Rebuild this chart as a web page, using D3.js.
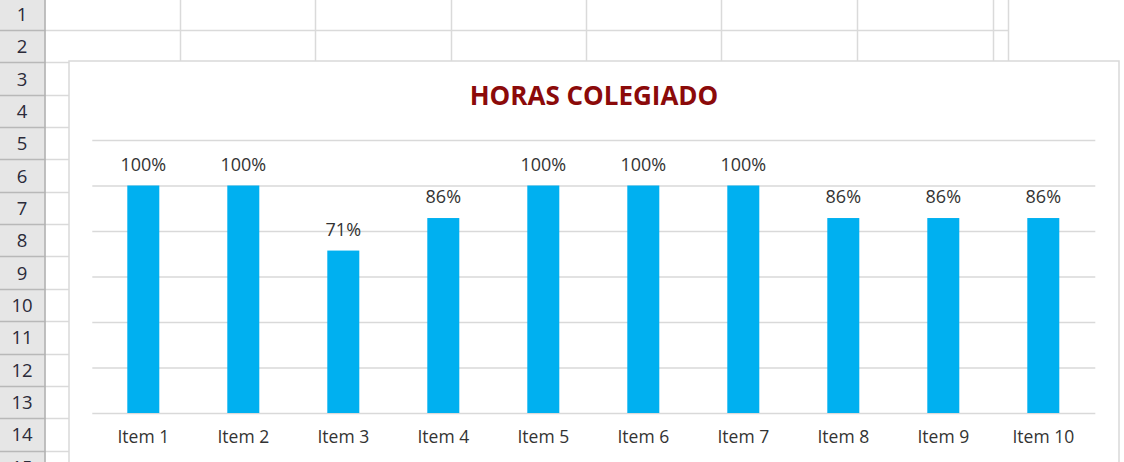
<!DOCTYPE html>
<html><head><meta charset="utf-8">
<script src="https://cdn.jsdelivr.net/npm/d3@7"></script>
<style>html,body{margin:0;padding:0;background:#fff;overflow:hidden}</style>
</head><body>
<svg id="c" width="1124" height="462"></svg>
<script>
const title = "HORAS COLEGIADO";
const categories = ["Item 1","Item 2","Item 3","Item 4","Item 5","Item 6","Item 7","Item 8","Item 9","Item 10"];
const values = [1, 1, 0.714, 0.857, 1, 1, 1, 0.857, 0.857, 0.857];
const yTicks = [0, 0.2, 0.4, 0.6, 0.8, 1.0, 1.2];
const rowNumbers = [1,2,3,4,5,6,7,8,9,10,11,12,13,14,15];
const columnEdges = [180, 315, 451, 586, 721, 857, 993, 1008];

const svg = d3.select("#c");
const W = 1124, H = 462;
const font = "'Open Sans', sans-serif";

// --- spreadsheet background ---
const rowH = 32.35, rowTop = 30 - rowH;
const hdrW = 44.5;
svg.append("rect").attr("x",0).attr("y",0).attr("width",hdrW).attr("height",H).attr("fill","#e6e6e6");
rowNumbers.forEach((r,i)=>{
  const y = Math.round(rowTop + rowH*(i+1)) + 0.5;
  svg.append("line").attr("x1",hdrW).attr("x2", i<1 ? 1008 : 69).attr("y1",y).attr("y2",y)
    .attr("stroke","#dadada").attr("stroke-width",1.5);
});
columnEdges.forEach(x=>{
  svg.append("line").attr("x1",x+0.5).attr("x2",x+0.5).attr("y1",0).attr("y2",61)
    .attr("stroke","#dadada").attr("stroke-width",1.5);
});
rowNumbers.forEach((r,i)=>{
  const y = Math.round(rowTop + rowH*(i+1)) + 0.5;
  svg.append("line").attr("x1",0).attr("x2",hdrW).attr("y1",y).attr("y2",y)
    .attr("stroke","#b8b8b8").attr("stroke-width",1.5);
  svg.append("text").attr("x",22).attr("y", rowTop + rowH*(i+0.5) + 7)
    .attr("text-anchor","middle").attr("font-family",font).attr("font-size",18.5)
    .attr("fill","#2b2b3a").text(r);
});
svg.append("line").attr("x1",hdrW+0.5).attr("x2",hdrW+0.5).attr("y1",0).attr("y2",H)
  .attr("stroke","#ababab").attr("stroke-width",1.5);

// --- chart area ---
svg.append("rect").attr("x",69).attr("y",61).attr("width",1050).attr("height",H)
  .attr("fill","#fff").attr("stroke","#d9d9d9").attr("stroke-width",1.5);

const plot = {left: 93.3, right: 1093.3, top: 140, bottom: 413};
const x = d3.scaleBand().domain(categories).range([plot.left, plot.right]).paddingInner(0.68).paddingOuter(0.34);
const y = d3.scaleLinear().domain([0, 1.2]).range([plot.bottom, plot.top]);

const g = svg.append("g");
g.append("g").attr("transform",`translate(${plot.left - 1},0)`)
  .call(d3.axisLeft(y).tickValues(yTicks).tickSize(-(plot.right - plot.left + 3)).tickFormat(""))
  .call(s=>s.select(".domain").remove())
  .call(s=>s.selectAll("line").attr("stroke","#d9d9d9").attr("stroke-width",1.5));

g.selectAll("rect.bar").data(values).join("rect").attr("class","bar")
  .attr("x",(d,i)=>x(categories[i])).attr("width",x.bandwidth())
  .attr("y",d=>y(d)).attr("height",d=>y(0)-y(d)).attr("fill","#00b0f0");

g.selectAll("text.val").data(values).join("text").attr("class","val")
  .attr("x",(d,i)=>x(categories[i]) + x.bandwidth()/2).attr("y",d=>y(d)-15)
  .attr("text-anchor","middle").attr("font-family",font).attr("font-size",18)
  .attr("fill","#333").text(d=>d3.format(".0%")(d));

g.append("g").attr("transform",`translate(0,${plot.bottom})`)
  .call(d3.axisBottom(x).tickSize(0).tickPadding(0))
  .call(s=>s.select(".domain").remove())
  .call(s=>s.selectAll("text").attr("y",30).attr("dy",0).attr("font-family",font).attr("font-size",17.5).attr("fill","#333"));

svg.append("text").attr("x",594).attr("y",105).attr("text-anchor","middle")
  .attr("font-family",font).attr("font-weight","bold").attr("font-size",26)
  .attr("fill","#8b0a0a").text(title);
</script>
</body></html>
